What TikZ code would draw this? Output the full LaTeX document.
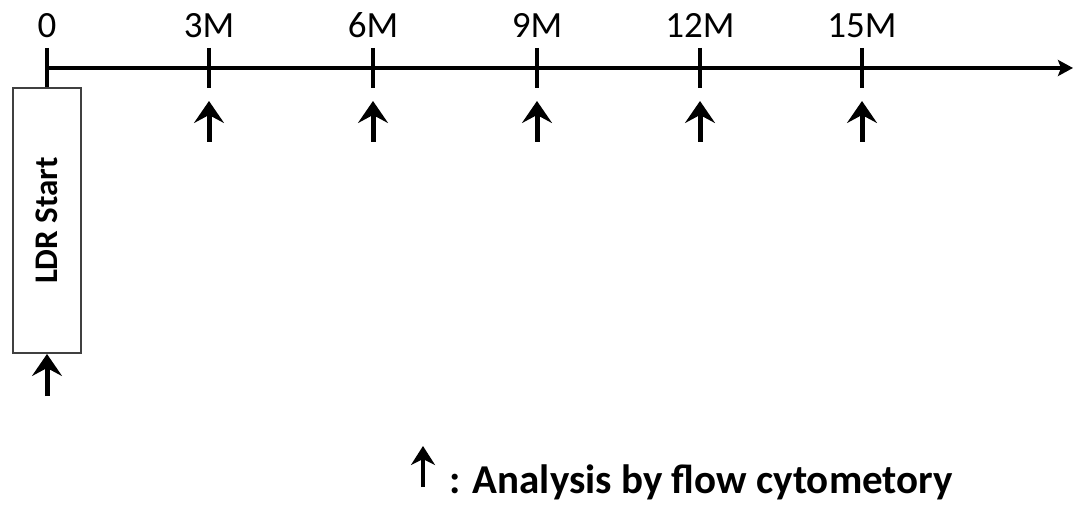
\documentclass[tikz,border=0pt]{standalone}
\usepackage{fontspec}
\setmainfont{Carlito}
\usetikzlibrary{arrows.meta}
\begin{document}
\begin{tikzpicture}[x=1pt, y=-1pt]
% Timeline of LDR follow-up, in pixel units
\providecommand{\tlLineWidth}{4pt}
\providecommand{\tlBoxColor}{black!75}
\providecommand{\tlBoxLineWidth}{2pt}
\tikzset{
  ticklbl/.style={anchor=base, inner sep=0pt, font=\fontsize{37}{44}\selectfont},
  tickmark/.style={line width=\tlLineWidth},
  uparrow/.style={line width=5pt, -{Stealth[length=22pt, width=30pt, inset=8pt]}},
  ldrbox/.style={draw=\tlBoxColor, line width=\tlBoxLineWidth, rotate=90, inner sep=0pt,
    minimum width=265pt, minimum height=68pt, font=\bfseries\fontsize{33}{40}\selectfont},
  legendlbl/.style={anchor=base west, inner sep=0pt, font=\bfseries\fontsize{41}{48}\selectfont}
}
\useasboundingbox (0,0) rectangle (1087,513);
% Time points on the axis
\coordinate (t0) at (47,68);
\coordinate (t3) at (209,68);
\coordinate (t6) at (373,68);
\coordinate (t9) at (537,68);
\coordinate (t12) at (700,68);
\coordinate (t15) at (862,68);
\coordinate (tend) at (1073,68);
% Axis
\draw[line width=\tlLineWidth, -{Stealth[length=15pt, width=16pt, inset=3pt]}] (t0) -- (tend);
% Tick marks
\begin{scope}[tickmark]
  \draw ([yshift=20pt]t0) -- ([yshift=-20pt]t0);
  \draw ([yshift=20pt]t3) -- ([yshift=-20pt]t3);
  \draw ([yshift=20pt]t6) -- ([yshift=-20pt]t6);
  \draw ([yshift=20pt]t9) -- ([yshift=-20pt]t9);
  \draw ([yshift=20pt]t12) -- ([yshift=-20pt]t12);
  \draw ([yshift=20pt]t15) -- ([yshift=-20pt]t15);
\end{scope}
% Tick labels
\node[ticklbl] (l0) at (47,38) {0};
\node[ticklbl] (l3) at (209,38) {3M};
\node[ticklbl] (l6) at (373,38) {6M};
\node[ticklbl] (l9) at (537,38) {9M};
\node[ticklbl] (l12) at (700,38) {12M};
\node[ticklbl] (l15) at (862,38) {15M};
% LDR start box
\node[ldrbox] (ldr) at (47,220.5) {LDR Start};
% Analysis arrows
\coordinate (a0) at (47,396);
\coordinate (a3) at (209,142);
\coordinate (a6) at (373,142);
\coordinate (a9) at (537,142);
\coordinate (a12) at (700,142);
\coordinate (a15) at (862,142);
\begin{scope}[uparrow]
  \draw (a0) -- (ldr.west);
  \draw (a3) -- ++(0,-41);
  \draw (a6) -- ++(0,-41);
  \draw (a9) -- ++(0,-41);
  \draw (a12) -- ++(0,-41);
  \draw (a15) -- ++(0,-41);
\end{scope}
% Legend
\coordinate (keyfoot) at (423,487);
\coordinate (keyhead) at (423,446);
\draw[line width=4pt, -{Stealth[length=19pt, width=24pt, inset=6pt]}] (keyfoot) -- (keyhead);
\node[legendlbl] (key) at (449,493) {: Analysis by flow cytometory};
\end{tikzpicture}
\end{document}
